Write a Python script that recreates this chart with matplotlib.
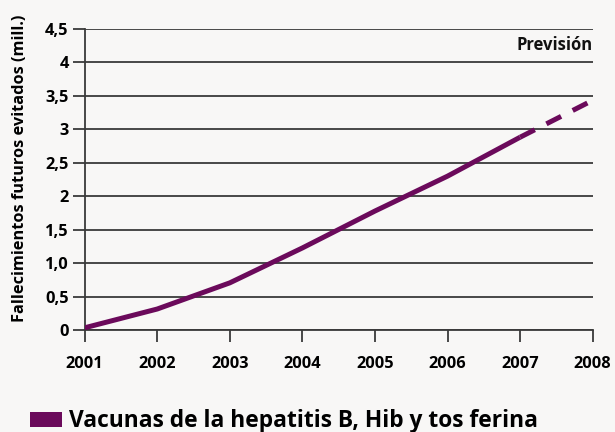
import matplotlib
matplotlib.use("Agg")
import matplotlib.pyplot as plt
from matplotlib.patches import Patch

plt.rcParams['font.family'] = ['Open Sans', 'DejaVu Sans']

years = [2001, 2002, 2003, 2004, 2005, 2006, 2007, 2008]
values = [0.04, 0.32, 0.71, 1.23, 1.78, 2.30, 2.88, 3.43]
forecast_start = 2007
yticks = [0, 0.5, 1.0, 1.5, 2, 2.5, 3, 3.5, 4, 4.5]
ytick_labels = ["0", "0,5", "1,0", "1,5", "2", "2,5", "3", "3,5", "4", "4,5"]
ylabel = "Fallecimientos futuros evitados (mill.)"
series_label = "Vacunas de la hepatitis B, Hib y tos ferina"
forecast_label = "Previsión"

bg = '#f8f7f6'
purple = '#6b0a5b'
grid_c = '#3a3a3a'

fig = plt.figure(figsize=(6.15, 4.32), dpi=100, facecolor=bg)
ax = fig.add_axes([0.1377, 0.235, 0.9637 - 0.1377, 0.934 - 0.235])
ax.set_facecolor(bg)

k = years.index(forecast_start)
ax.plot(years[:k + 1], values[:k + 1], color=purple, lw=3.6,
        solid_capstyle='butt', zorder=3)
ax.plot(years[k:], values[k:], color=purple, lw=3.6, dashes=(3.3, 2.6),
        dash_capstyle='butt', zorder=3)

ax.set_xlim(years[0], years[-1])
ax.set_ylim(0, 4.5)
ax.set_xticks(years)
ax.set_xticklabels([str(y) for y in years], fontsize=11.8, fontweight='bold')
ax.set_yticks(yticks)
ax.set_yticklabels(ytick_labels, fontsize=11.8, fontweight='bold')

ax.yaxis.grid(True, color=grid_c, lw=1.3)
ax.set_axisbelow(True)
for s in ['top', 'right']:
    ax.spines[s].set_visible(False)
for s in ['left', 'bottom']:
    ax.spines[s].set_color(grid_c)
    ax.spines[s].set_linewidth(1.3)
ax.tick_params(axis='x', direction='out', length=8.5, width=1.3, color=grid_c, pad=10)
ax.tick_params(axis='y', direction='out', length=8.5, width=1.3, color=grid_c, pad=3)

ax.set_ylabel(ylabel, fontsize=11.75, fontweight='bold')
ax.yaxis.set_label_coords(-0.112, 0.538)

ax.text(years[-1], 4.25, forecast_label, ha='right', va='center',
        fontsize=12, fontweight='bold', color='#111111')

handle = Patch(facecolor=purple, edgecolor='none')
fig.legend([handle], [series_label], loc='lower left',
           bbox_to_anchor=(0.027, -0.035), frameon=False,
           prop={'family': ['Open Sans'], 'weight': 'bold', 'size': 16.4},
           handlelength=1.4, handleheight=0.65, handletextpad=0.3,
           borderaxespad=0.2)

fig.savefig('out.png', dpi=100, facecolor=bg)
